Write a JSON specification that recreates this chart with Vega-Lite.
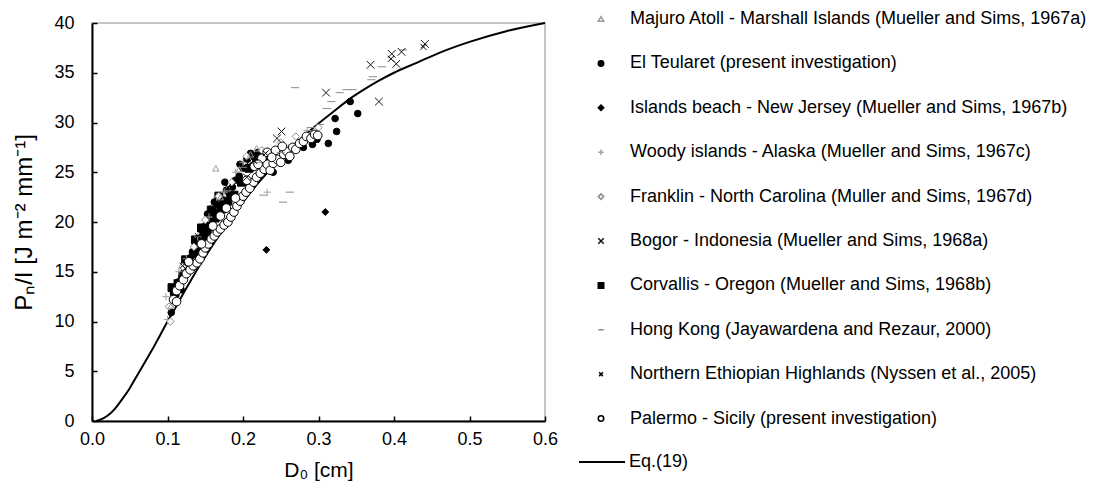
{
  "$schema": "https://vega.github.io/schema/vega-lite/v6.json",
  "width": 453,
  "height": 398,
  "autosize": {"type": "none"},
  "padding": {"left": 92, "top": 23, "right": 562, "bottom": 64},
  "background": "white",
  "config": {
    "font": "Liberation Sans",
    "view": {"stroke": "#b4b4b4", "strokeWidth": 1.5},
    "axis": {
      "grid": false,
      "domainColor": "black",
      "domainWidth": 2,
      "tickColor": "black",
      "tickWidth": 1.5,
      "tickSize": -5,
      "labelColor": "black",
      "labelFontSize": 18,
      "labelFlush": false,
      "labelOverlap": false,
      "titleColor": "black",
      "titleFontSize": 21,
      "titleFontWeight": "normal"
    },
    "legend": {"labelColor": "black", "labelLimit": 700}
  },
  "datasets": {
    "sites": [
      {"code": "MA", "site": "Majuro Atoll - Marshall Islands (Mueller and Sims, 1967a)"},
      {"code": "ET", "site": "El Teularet (present investigation)"},
      {"code": "IB", "site": "Islands beach - New Jersey (Mueller and Sims, 1967b)"},
      {"code": "WI", "site": "Woody islands - Alaska (Mueller and Sims, 1967c)"},
      {"code": "FR", "site": "Franklin - North Carolina (Muller and Sims, 1967d)"},
      {"code": "BO", "site": "Bogor - Indonesia  (Mueller and Sims, 1968a)"},
      {"code": "CO", "site": "Corvallis - Oregon (Mueller and Sims, 1968b)"},
      {"code": "HK", "site": "Hong Kong (Jayawardena and Rezaur, 2000)"},
      {"code": "NE", "site": "Northern Ethiopian Highlands (Nyssen et al., 2005)"},
      {"code": "PA", "site": "Palermo - Sicily (present investigation)"}
    ],
    "eq19": [
      {"label": "Eq.(19)", "d": 0.005, "p": 0},
      {"label": "Eq.(19)", "d": 0.01, "p": 0.1},
      {"label": "Eq.(19)", "d": 0.02, "p": 0.5},
      {"label": "Eq.(19)", "d": 0.03, "p": 1.2},
      {"label": "Eq.(19)", "d": 0.04, "p": 2.2},
      {"label": "Eq.(19)", "d": 0.05, "p": 3.3},
      {"label": "Eq.(19)", "d": 0.06, "p": 4.6},
      {"label": "Eq.(19)", "d": 0.07, "p": 5.9},
      {"label": "Eq.(19)", "d": 0.08, "p": 7.2},
      {"label": "Eq.(19)", "d": 0.09, "p": 8.6},
      {"label": "Eq.(19)", "d": 0.10, "p": 10.0},
      {"label": "Eq.(19)", "d": 0.11, "p": 11.3},
      {"label": "Eq.(19)", "d": 0.12, "p": 12.7},
      {"label": "Eq.(19)", "d": 0.13, "p": 14.0},
      {"label": "Eq.(19)", "d": 0.14, "p": 15.3},
      {"label": "Eq.(19)", "d": 0.15, "p": 16.5},
      {"label": "Eq.(19)", "d": 0.16, "p": 17.7},
      {"label": "Eq.(19)", "d": 0.17, "p": 18.8},
      {"label": "Eq.(19)", "d": 0.18, "p": 19.9},
      {"label": "Eq.(19)", "d": 0.19, "p": 21.0},
      {"label": "Eq.(19)", "d": 0.20, "p": 22.0},
      {"label": "Eq.(19)", "d": 0.22, "p": 23.9},
      {"label": "Eq.(19)", "d": 0.24, "p": 25.6},
      {"label": "Eq.(19)", "d": 0.26, "p": 27.2},
      {"label": "Eq.(19)", "d": 0.28, "p": 28.6},
      {"label": "Eq.(19)", "d": 0.30, "p": 29.9},
      {"label": "Eq.(19)", "d": 0.32, "p": 31.1},
      {"label": "Eq.(19)", "d": 0.34, "p": 32.3},
      {"label": "Eq.(19)", "d": 0.36, "p": 33.3},
      {"label": "Eq.(19)", "d": 0.38, "p": 34.2},
      {"label": "Eq.(19)", "d": 0.40, "p": 35.0},
      {"label": "Eq.(19)", "d": 0.43, "p": 36.0},
      {"label": "Eq.(19)", "d": 0.46, "p": 37.0},
      {"label": "Eq.(19)", "d": 0.50, "p": 38.1},
      {"label": "Eq.(19)", "d": 0.55, "p": 39.2},
      {"label": "Eq.(19)", "d": 0.60, "p": 40.0}
    ],
    "obs": [
      {"code": "CO", "d": 0.110, "p": 12.9}, {"code": "CO", "d": 0.114, "p": 13.8}, {"code": "CO", "d": 0.120, "p": 14.6},
      {"code": "CO", "d": 0.128, "p": 15.9}, {"code": "CO", "d": 0.135, "p": 16.8}, {"code": "CO", "d": 0.142, "p": 17.3},
      {"code": "CO", "d": 0.148, "p": 18.4}, {"code": "CO", "d": 0.155, "p": 19.6}, {"code": "CO", "d": 0.163, "p": 20.4},
      {"code": "CO", "d": 0.172, "p": 21.3}, {"code": "CO", "d": 0.180, "p": 22.1}, {"code": "CO", "d": 0.188, "p": 22.7},
      {"code": "CO", "d": 0.198, "p": 24.0}, {"code": "CO", "d": 0.208, "p": 25.4}, {"code": "CO", "d": 0.218, "p": 26.0},
      {"code": "CO", "d": 0.106, "p": 13.4}, {"code": "CO", "d": 0.137, "p": 18.2}, {"code": "CO", "d": 0.152, "p": 18.8},
      {"code": "CO", "d": 0.145, "p": 19.4}, {"code": "CO", "d": 0.158, "p": 21.2}, {"code": "CO", "d": 0.168, "p": 22.6},
      {"code": "CO", "d": 0.124, "p": 16.2},

      {"code": "ET", "d": 0.105, "p": 10.9}, {"code": "ET", "d": 0.108, "p": 12.8}, {"code": "ET", "d": 0.112, "p": 13.5},
      {"code": "ET", "d": 0.115, "p": 14.0}, {"code": "ET", "d": 0.118, "p": 13.2}, {"code": "ET", "d": 0.122, "p": 15.0},
      {"code": "ET", "d": 0.126, "p": 15.6}, {"code": "ET", "d": 0.130, "p": 16.4}, {"code": "ET", "d": 0.133, "p": 17.0},
      {"code": "ET", "d": 0.137, "p": 17.6}, {"code": "ET", "d": 0.140, "p": 18.3}, {"code": "ET", "d": 0.144, "p": 18.0},
      {"code": "ET", "d": 0.147, "p": 19.0}, {"code": "ET", "d": 0.150, "p": 19.6}, {"code": "ET", "d": 0.154, "p": 19.2},
      {"code": "ET", "d": 0.157, "p": 20.4}, {"code": "ET", "d": 0.160, "p": 20.9}, {"code": "ET", "d": 0.164, "p": 21.0},
      {"code": "ET", "d": 0.167, "p": 21.7}, {"code": "ET", "d": 0.170, "p": 22.4}, {"code": "ET", "d": 0.174, "p": 22.0},
      {"code": "ET", "d": 0.178, "p": 23.2}, {"code": "ET", "d": 0.182, "p": 22.8}, {"code": "ET", "d": 0.186, "p": 23.5},
      {"code": "ET", "d": 0.190, "p": 24.2}, {"code": "ET", "d": 0.195, "p": 24.6}, {"code": "ET", "d": 0.200, "p": 25.4},
      {"code": "ET", "d": 0.205, "p": 26.3}, {"code": "ET", "d": 0.210, "p": 26.9}, {"code": "ET", "d": 0.215, "p": 26.6},
      {"code": "ET", "d": 0.220, "p": 27.0}, {"code": "ET", "d": 0.230, "p": 26.2}, {"code": "ET", "d": 0.240, "p": 25.0},
      {"code": "ET", "d": 0.260, "p": 26.2}, {"code": "ET", "d": 0.280, "p": 27.5}, {"code": "ET", "d": 0.292, "p": 27.8},
      {"code": "ET", "d": 0.298, "p": 28.3}, {"code": "ET", "d": 0.313, "p": 27.9}, {"code": "ET", "d": 0.324, "p": 29.1},
      {"code": "ET", "d": 0.322, "p": 30.4}, {"code": "ET", "d": 0.342, "p": 32.1}, {"code": "ET", "d": 0.352, "p": 30.9},
      {"code": "ET", "d": 0.153, "p": 20.8}, {"code": "ET", "d": 0.162, "p": 22.0}, {"code": "ET", "d": 0.176, "p": 24.0},
      {"code": "ET", "d": 0.196, "p": 25.8}, {"code": "ET", "d": 0.212, "p": 25.6}, {"code": "ET", "d": 0.226, "p": 25.5},

      {"code": "WI", "d": 0.098, "p": 12.5}, {"code": "WI", "d": 0.100, "p": 10.2}, {"code": "WI", "d": 0.115, "p": 15.0},
      {"code": "WI", "d": 0.125, "p": 16.3}, {"code": "WI", "d": 0.140, "p": 18.5}, {"code": "WI", "d": 0.155, "p": 20.5},
      {"code": "WI", "d": 0.165, "p": 22.5}, {"code": "WI", "d": 0.175, "p": 23.0}, {"code": "WI", "d": 0.190, "p": 25.0},
      {"code": "WI", "d": 0.200, "p": 26.0}, {"code": "WI", "d": 0.232, "p": 23.0}, {"code": "WI", "d": 0.240, "p": 26.5},
      {"code": "WI", "d": 0.260, "p": 27.5}, {"code": "WI", "d": 0.285, "p": 29.2},

      {"code": "FR", "d": 0.102, "p": 11.5}, {"code": "FR", "d": 0.120, "p": 15.5}, {"code": "FR", "d": 0.135, "p": 17.5},
      {"code": "FR", "d": 0.150, "p": 20.2}, {"code": "FR", "d": 0.168, "p": 22.6}, {"code": "FR", "d": 0.185, "p": 24.0},
      {"code": "FR", "d": 0.205, "p": 26.6}, {"code": "FR", "d": 0.225, "p": 27.2}, {"code": "FR", "d": 0.250, "p": 28.0},
      {"code": "FR", "d": 0.270, "p": 28.6}, {"code": "FR", "d": 0.300, "p": 29.5}, {"code": "FR", "d": 0.104, "p": 10.0},

      {"code": "MA", "d": 0.164, "p": 25.4}, {"code": "MA", "d": 0.170, "p": 22.5}, {"code": "MA", "d": 0.180, "p": 23.4},
      {"code": "MA", "d": 0.195, "p": 25.3}, {"code": "MA", "d": 0.210, "p": 26.8}, {"code": "MA", "d": 0.218, "p": 27.4},
      {"code": "MA", "d": 0.105, "p": 11.6},

      {"code": "PA", "d": 0.108, "p": 12.2}, {"code": "PA", "d": 0.112, "p": 13.1}, {"code": "PA", "d": 0.116, "p": 13.6},
      {"code": "PA", "d": 0.121, "p": 14.2}, {"code": "PA", "d": 0.125, "p": 14.8}, {"code": "PA", "d": 0.130, "p": 15.2},
      {"code": "PA", "d": 0.134, "p": 15.6}, {"code": "PA", "d": 0.139, "p": 15.9}, {"code": "PA", "d": 0.143, "p": 16.3},
      {"code": "PA", "d": 0.147, "p": 16.9}, {"code": "PA", "d": 0.150, "p": 17.4}, {"code": "PA", "d": 0.154, "p": 17.8},
      {"code": "PA", "d": 0.158, "p": 18.3}, {"code": "PA", "d": 0.162, "p": 18.6}, {"code": "PA", "d": 0.166, "p": 19.0},
      {"code": "PA", "d": 0.170, "p": 19.3}, {"code": "PA", "d": 0.175, "p": 19.7}, {"code": "PA", "d": 0.180, "p": 20.0},
      {"code": "PA", "d": 0.184, "p": 20.5}, {"code": "PA", "d": 0.188, "p": 21.0}, {"code": "PA", "d": 0.192, "p": 21.6},
      {"code": "PA", "d": 0.196, "p": 22.1}, {"code": "PA", "d": 0.200, "p": 22.6}, {"code": "PA", "d": 0.204, "p": 23.0},
      {"code": "PA", "d": 0.209, "p": 23.4}, {"code": "PA", "d": 0.214, "p": 24.0}, {"code": "PA", "d": 0.218, "p": 24.5},
      {"code": "PA", "d": 0.223, "p": 24.9}, {"code": "PA", "d": 0.228, "p": 25.3}, {"code": "PA", "d": 0.232, "p": 25.8},
      {"code": "PA", "d": 0.236, "p": 25.2}, {"code": "PA", "d": 0.240, "p": 25.9}, {"code": "PA", "d": 0.245, "p": 26.3},
      {"code": "PA", "d": 0.250, "p": 26.0}, {"code": "PA", "d": 0.254, "p": 26.8}, {"code": "PA", "d": 0.258, "p": 27.1},
      {"code": "PA", "d": 0.262, "p": 26.6}, {"code": "PA", "d": 0.266, "p": 27.5}, {"code": "PA", "d": 0.270, "p": 27.3},
      {"code": "PA", "d": 0.275, "p": 27.9}, {"code": "PA", "d": 0.280, "p": 28.1}, {"code": "PA", "d": 0.284, "p": 28.6},
      {"code": "PA", "d": 0.290, "p": 28.4}, {"code": "PA", "d": 0.295, "p": 28.8}, {"code": "PA", "d": 0.299, "p": 28.7},
      {"code": "PA", "d": 0.190, "p": 22.4}, {"code": "PA", "d": 0.205, "p": 24.2}, {"code": "PA", "d": 0.215, "p": 25.6},
      {"code": "PA", "d": 0.225, "p": 26.4}, {"code": "PA", "d": 0.232, "p": 27.0}, {"code": "PA", "d": 0.243, "p": 27.2},
      {"code": "PA", "d": 0.252, "p": 27.6}, {"code": "PA", "d": 0.160, "p": 19.6}, {"code": "PA", "d": 0.170, "p": 20.6},
      {"code": "PA", "d": 0.145, "p": 17.8}, {"code": "PA", "d": 0.128, "p": 16.0}, {"code": "PA", "d": 0.112, "p": 12.0},
      {"code": "PA", "d": 0.178, "p": 21.4}, {"code": "PA", "d": 0.220, "p": 25.8}, {"code": "PA", "d": 0.238, "p": 26.5},

      {"code": "HK", "d": 0.269, "p": 33.5}, {"code": "HK", "d": 0.253, "p": 22.0}, {"code": "HK", "d": 0.262, "p": 23.0},
      {"code": "HK", "d": 0.227, "p": 22.7}, {"code": "HK", "d": 0.317, "p": 32.1}, {"code": "HK", "d": 0.328, "p": 33.0},
      {"code": "HK", "d": 0.337, "p": 33.3}, {"code": "HK", "d": 0.345, "p": 33.3}, {"code": "HK", "d": 0.370, "p": 34.3},
      {"code": "HK", "d": 0.384, "p": 35.6}, {"code": "HK", "d": 0.412, "p": 37.3}, {"code": "HK", "d": 0.200, "p": 25.5},
      {"code": "HK", "d": 0.220, "p": 26.0}, {"code": "HK", "d": 0.250, "p": 27.0}, {"code": "HK", "d": 0.290, "p": 29.5},
      {"code": "HK", "d": 0.311, "p": 31.4}, {"code": "HK", "d": 0.302, "p": 29.8}, {"code": "HK", "d": 0.372, "p": 34.6},

      {"code": "NE", "d": 0.439, "p": 37.6}, {"code": "NE", "d": 0.396, "p": 36.4}, {"code": "NE", "d": 0.209, "p": 26.1},
      {"code": "NE", "d": 0.160, "p": 21.4}, {"code": "NE", "d": 0.140, "p": 18.6}, {"code": "NE", "d": 0.120, "p": 15.6},
      {"code": "NE", "d": 0.180, "p": 23.5}, {"code": "NE", "d": 0.230, "p": 26.9},

      {"code": "BO", "d": 0.251, "p": 29.1}, {"code": "BO", "d": 0.310, "p": 33.0}, {"code": "BO", "d": 0.369, "p": 35.8},
      {"code": "BO", "d": 0.397, "p": 36.9}, {"code": "BO", "d": 0.403, "p": 35.9}, {"code": "BO", "d": 0.410, "p": 37.1},
      {"code": "BO", "d": 0.441, "p": 37.9}, {"code": "BO", "d": 0.380, "p": 32.1}, {"code": "BO", "d": 0.245, "p": 28.4},
      {"code": "BO", "d": 0.214, "p": 26.2}, {"code": "BO", "d": 0.205, "p": 24.5},

      {"code": "IB", "d": 0.231, "p": 17.2}, {"code": "IB", "d": 0.309, "p": 21.0}
    ]
  },
  "encoding": {
    "x": {
      "field": "d",
      "type": "quantitative",
      "scale": {"domain": [0, 0.6], "nice": false, "zero": false},
      "axis": {
        "title": "D₀ [cm]",
        "values": [0, 0.1, 0.2, 0.3, 0.4, 0.5, 0.6],
        "format": ".1f",
        "labelPadding": 14,
        "titlePadding": 11
      }
    },
    "y": {
      "field": "p",
      "type": "quantitative",
      "scale": {"domain": [0, 40], "nice": false},
      "axis": {
        "title": "Pₙ/I [J m⁻² mm⁻¹]",
        "titleFontSize": 24,
        "values": [0, 5, 10, 15, 20, 25, 30, 35, 40],
        "format": "d",
        "labelPadding": 23,
        "titlePadding": 17
      }
    }
  },
  "layer": [
    {
      "data": {"name": "eq19"},
      "mark": {"type": "line", "strokeWidth": 2, "interpolate": "monotone"},
      "encoding": {
        "color": {
          "field": "label",
          "type": "nominal",
          "scale": {"range": ["black"]},
          "legend": {
            "orient": "none",
            "legendX": 486,
            "legendY": 415,
            "title": null,
            "padding": 0,
            "labelFontSize": 18,
            "labelOffset": 3,
            "symbolType": "stroke",
            "symbolSize": 2116,
            "symbolStrokeWidth": 2
          }
        }
      }
    },
    {
      "data": {"name": "obs"},
      "transform": [
        {"lookup": "code", "from": {"data": {"name": "sites"}, "key": "code", "fields": ["site"]}}
      ],
      "mark": {"type": "point", "filled": true, "opacity": 1},
      "encoding": {
        "shape": {
          "field": "site",
          "type": "nominal",
          "sort": null,
          "scale": {
            "domain": [
              "Majuro Atoll - Marshall Islands (Mueller and Sims, 1967a)",
              "El Teularet (present investigation)",
              "Islands beach - New Jersey (Mueller and Sims, 1967b)",
              "Woody islands - Alaska (Mueller and Sims, 1967c)",
              "Franklin - North Carolina (Muller and Sims, 1967d)",
              "Bogor - Indonesia  (Mueller and Sims, 1968a)",
              "Corvallis - Oregon (Mueller and Sims, 1968b)",
              "Hong Kong (Jayawardena and Rezaur, 2000)",
              "Northern Ethiopian Highlands (Nyssen et al., 2005)",
              "Palermo - Sicily (present investigation)"
            ],
            "range": [
              "triangle-up",
              "circle",
              "diamond",
              "M-1,0L1,0M0,-1L0,1",
              "diamond",
              "M-1,-1L1,1M-1,1L1,-1",
              "square",
              "M-1,0L1,0",
              "M-0.7,-0.7L0.7,0.7M-0.7,0.7L0.7,-0.7",
              "circle"
            ]
          },
          "legend": {
            "orient": "none",
            "legendX": 500,
            "legendY": -13,
            "title": null,
            "padding": 0,
            "labelFontSize": 18,
            "labelOffset": 20,
            "rowPadding": 26.4,
            "symbolSize": 30,
            "symbolStrokeWidth": 1.5,
            "encode": {
              "symbols": {
                "update": {
                  "size": {"signal": "indexof(datum.value, 'Bogor') === 0 ? 56 : 30"},
                  "strokeWidth": {"signal": "indexof(datum.value, 'Bogor') === 0 ? 2.4 : 1.5"}
                }
              }
            }
          }
        },
        "fill": {
          "field": "site",
          "type": "nominal",
          "sort": null,
          "scale": {
            "domain": [
              "Majuro Atoll - Marshall Islands (Mueller and Sims, 1967a)",
              "El Teularet (present investigation)",
              "Islands beach - New Jersey (Mueller and Sims, 1967b)",
              "Woody islands - Alaska (Mueller and Sims, 1967c)",
              "Franklin - North Carolina (Muller and Sims, 1967d)",
              "Bogor - Indonesia  (Mueller and Sims, 1968a)",
              "Corvallis - Oregon (Mueller and Sims, 1968b)",
              "Hong Kong (Jayawardena and Rezaur, 2000)",
              "Northern Ethiopian Highlands (Nyssen et al., 2005)",
              "Palermo - Sicily (present investigation)"
            ],
            "range": ["transparent", "black", "black", "transparent", "white", "transparent", "black", "transparent", "transparent", "white"]
          }
        },
        "stroke": {
          "field": "site",
          "type": "nominal",
          "sort": null,
          "scale": {
            "domain": [
              "Majuro Atoll - Marshall Islands (Mueller and Sims, 1967a)",
              "El Teularet (present investigation)",
              "Islands beach - New Jersey (Mueller and Sims, 1967b)",
              "Woody islands - Alaska (Mueller and Sims, 1967c)",
              "Franklin - North Carolina (Muller and Sims, 1967d)",
              "Bogor - Indonesia  (Mueller and Sims, 1968a)",
              "Corvallis - Oregon (Mueller and Sims, 1968b)",
              "Hong Kong (Jayawardena and Rezaur, 2000)",
              "Northern Ethiopian Highlands (Nyssen et al., 2005)",
              "Palermo - Sicily (present investigation)"
            ],
            "range": ["#9a9a9a", "black", "black", "#a3a3a3", "#8c8c8c", "#111111", "black", "#8c8c8c", "black", "black"]
          }
        },
        "size": {
          "field": "code",
          "type": "nominal",
          "legend": null,
          "scale": {
            "domain": ["MA", "ET", "IB", "WI", "FR", "BO", "CO", "HK", "NE", "PA"],
            "range": [40, 75, 70, 49, 30, 81, 64, 64, 64, 50]
          }
        },
        "strokeWidth": {
          "field": "code",
          "type": "nominal",
          "legend": null,
          "scale": {
            "domain": ["MA", "ET", "IB", "WI", "FR", "BO", "CO", "HK", "NE", "PA"],
            "range": [1, 1, 1, 1, 1, 2.2, 1, 2, 1.4, 1.2]
          }
        }
      }
    }
  ]
}
